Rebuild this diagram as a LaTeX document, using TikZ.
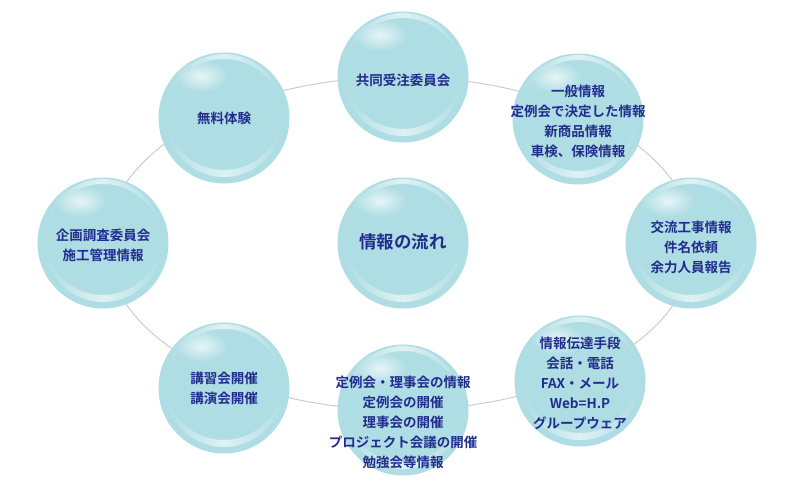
\documentclass[tikz,border=0pt]{standalone}
\usepackage{fontspec}
\setmainfont{Noto Sans CJK JP}[BoldFont={Noto Sans CJK JP Bold}]
\usetikzlibrary{calc}
\definecolor{bub}{HTML}{AEDDE3}
\definecolor{txt}{HTML}{222C8C}
\definecolor{ringc}{HTML}{C8C8C8}
\tikzset{
  bubble/.style={circle, minimum size=131pt, inner sep=0pt, fill=bub},
  label/.style={text=txt, align=center, inner sep=0pt, font=\fontsize{13.5pt}{20pt}\selectfont\bfseries},
  biglabel/.style={text=txt, align=center, inner sep=0pt, font=\fontsize{17.5pt}{22pt}\selectfont\bfseries},
  ring/.style={draw=ringc, line width=0.9pt}
}
\newcommand{\mybub}[3]{%
  \node[bubble] (#1) at (#2,#3) {};
  \begin{scope}
    \clip (#1.center) circle[radius=65.5pt];
    \shade[inner color=white!70!bub, outer color=bub] ($(#1.center)+(-23,-42)$) ellipse[x radius=27, y radius=16];
    \shade[even odd rule, left color=bub, right color=bub, middle color=white!60!bub]
      ($(#1.center)$) circle[radius=59pt] ($(#1.center)+(0,-6)$) circle[radius=58pt];
  \end{scope}}
\begin{document}
\begin{tikzpicture}[x=1pt, y=-1pt]
\useasboundingbox (0,0) rectangle (800,498);
\fill[white] (0,0) rectangle (800,498);
\draw[ring] (400,243.5) ellipse[x radius=294, y radius=166.5];
\mybub{b1}{403}{77}
\mybub{b2}{578}{119}
\mybub{b3}{691}{243}
\mybub{b4}{580}{381}
\mybub{b5}{403}{410}
\mybub{b6}{224}{388}
\mybub{b7}{103}{243}
\mybub{b8}{224}{118}
\mybub{b9}{403}{243}
\node[label] (t1) at (403,80) {共同受注委員会};
\node[label] (t2) at (578,121) {一般情報\\定例会で決定した情報\\新商品情報\\車検、保険情報};
\node[label] (t3) at (691,247) {交流工事情報\\件名依頼\\余力人員報告};
\node[label] (t4) at (580,383) {情報伝達手段\\会話・電話\\FAX・メール\\Web=H.P\\グループウェア};
\node[label] (t5) at (403,422) {定例会・理事会の情報\\定例会の開催\\理事会の開催\\プロジェクト会議の開催\\勉強会等情報};
\node[label] (t6) at (224,388) {講習会開催\\講演会開催};
\node[label] (t7) at (103,245) {企画調査委員会\\施工管理情報};
\node[label] (t8) at (224,118) {無料体験};
\node[biglabel] (t9) at (403,242) {情報の流れ};
\end{tikzpicture}
\end{document}
